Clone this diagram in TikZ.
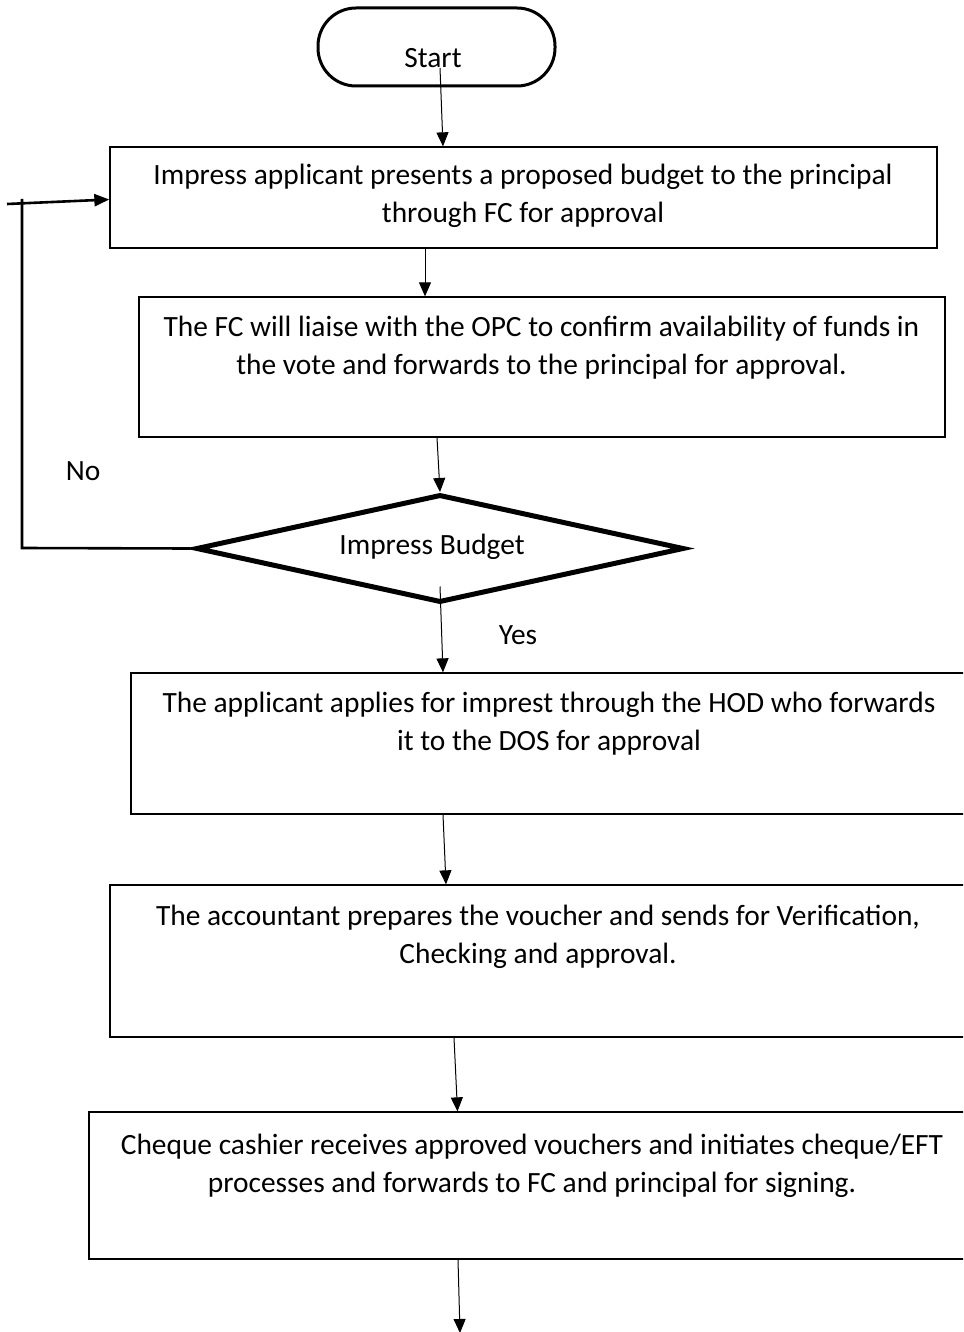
\documentclass[tikz,border=0pt]{standalone}
\usepackage{fontspec}
\setmainfont{Carlito}
\usetikzlibrary{shapes.geometric,arrows.meta}

\begin{document}
\begin{tikzpicture}[x=1pt,y=-1pt,
  txt/.style={font=\fontsize{29.4}{38.5}\selectfont, align=center, inner sep=0pt},
  procbox/.style={draw, line width=1.3pt, inner sep=0pt, rectangle},
  term/.style={draw, line width=3pt, rounded corners=38pt, inner sep=0pt,
    minimum width=237pt, minimum height=78pt},
  decision/.style={draw, diamond, line width=5pt, inner sep=0pt, line join=miter,
    minimum width=488pt, minimum height=108pt},
  arr/.style={line width=1pt, -{Triangle[length=14pt,width=12pt]}},
  loopline/.style={line width=2.6pt},
]
\useasboundingbox (0,0) rectangle (963,1332);
\clip (0,0) rectangle (963,1332);
\fill[white] (0,0) rectangle (963,1332);

% terminal
\node[term] (start) at (436.5,47) {};
\node[txt] (starttxt) at (433,58) {Start};

% process boxes
\node[procbox, minimum width=827pt, minimum height=101pt] (b1) at (523.5,197.5) {};
\node[txt] (t1) at (523,196) {Impress applicant presents a proposed budget to the principal\\ through FC for approval};

\node[procbox, minimum width=806pt, minimum height=140pt] (b2) at (542,367) {};
\node[txt] (t2) at (541.5,347.5) {The FC will liaise with the OPC to confirm availability of funds in\\ the vote and forwards to the principal for approval.};

% decision
\node[decision] (dec) at (440,548.5) {};
\node[txt] (dectxt) at (432,547) {Impress Budget};

\node[procbox, minimum width=835pt, minimum height=141pt] (b4) at (548.5,743.5) {};
\node[txt] (t4) at (549,723.5) {The applicant applies for imprest through the HOD who forwards\\ it to the DOS for approval};

\node[procbox, minimum width=856pt, minimum height=152pt] (b5) at (538,961) {};
\node[txt] (t5) at (538,937) {The accountant prepares the voucher and sends for Verification,\\ Checking and approval.};

\node[procbox, minimum width=877pt, minimum height=147pt] (b6) at (527.5,1185.5) {};
\node[txt] (t6) at (532,1166) {Cheque cashier receives approved vouchers and initiates cheque/EFT\\ processes and forwards to FC and principal for signing.};

% labels
\node[txt] (no) at (83,471) {No};
\node[txt] (yes) at (518,635) {Yes};

% end of the chart, below the last step
\coordinate (next) at (460,1333);
\coordinate (loopa) at (22,548);
\coordinate (loopb) at (22,199);
\coordinate (loopc) at (7,204);

% connectors
\draw[arr] ([xshift=3.5pt,yshift=-21pt]start.center) -- ([xshift=-80.5pt]b1.north);
\draw[arr] ([xshift=-98.5pt]b1.south) -- ([xshift=-117pt]b2.north);
\draw[arr] ([xshift=-105pt]b2.south) -- (dec.north);
\draw[arr] ([yshift=-38pt]dec.center) -- ([xshift=-105.5pt]b4.north);
\draw[arr] ([xshift=-105.5pt]b4.south) -- ([xshift=-92pt]b5.north);
\draw[arr] ([xshift=-84pt]b5.south) -- ([xshift=-70pt]b6.north);
\draw[arr] ([xshift=-69.5pt]b6.south) -- (next);

% "No" branch back to the first step
\draw[loopline] ([xshift=-3pt]dec.west) -- (loopa) -- (loopb);
\draw[loopline, -{Triangle[length=15pt,width=12pt]}] (loopc) -- ([yshift=-2pt]b1.west);
\end{tikzpicture}
\end{document}
